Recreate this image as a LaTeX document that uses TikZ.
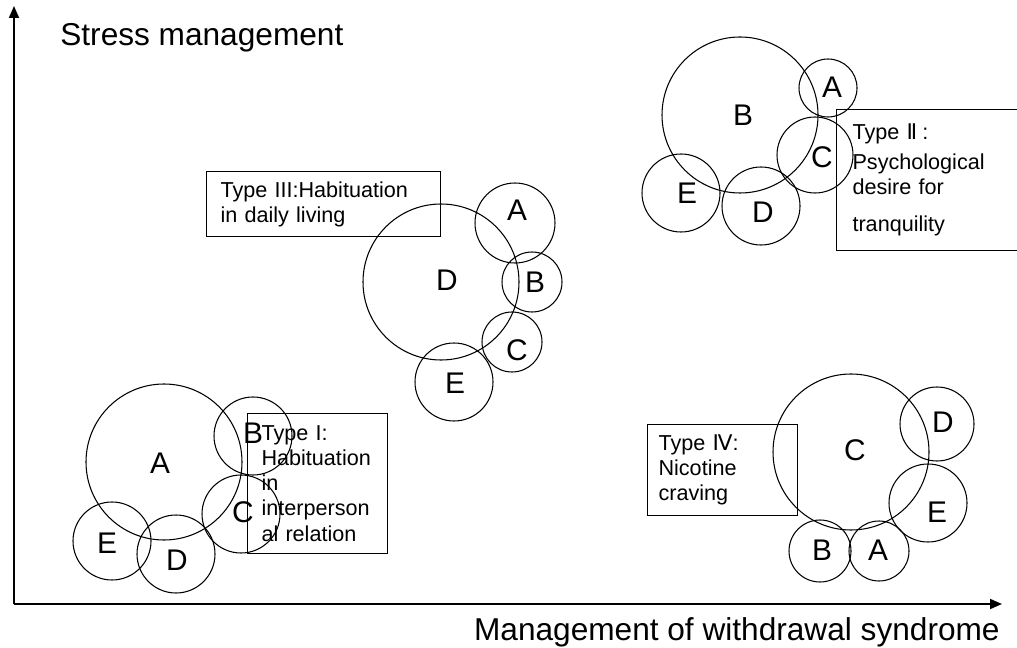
\documentclass[tikz,border=0pt]{standalone}
\usepackage{fontspec}
\setmainfont{Liberation Sans}
\newfontfamily\numfont{DejaVu Sans}
\usetikzlibrary{arrows.meta}

\tikzset{
	bubble/.style={line width=0.6pt},
	letter/.style={inner sep=0pt, font=\fontsize{17}{20}\selectfont},
	typebox/.style={draw, line width=0.6pt, anchor=north west, inner ysep=0pt, align=left, font=\fontsize{12.3}{14.3}\selectfont},
	axis/.style={line width=1pt, -{Triangle[length=0.24cm,width=0.2cm]}},
	axistitle/.style={inner sep=0pt, font=\fontsize{18}{21}\selectfont}
}

\begin{document}
\begin{tikzpicture}[x=0.02cm,y=-0.02cm]
			      \useasboundingbox (0,0) rectangle (1017,648);
			      \clip (0,0) rectangle (1017,648);

			      % axes
			      \coordinate (origin) at (14,604);
			      \coordinate (ytip) at (14,6);
			      \coordinate (xtip) at (1002,604);
			      \draw[axis] (origin) -- (ytip);
			      \draw[axis] (origin) -- (xtip);
			      \node[axistitle, anchor=west] (ytitle) at (60,38) {Stress management};
			      \node[axistitle, anchor=east] (xtitle) at (1000,632) {Management of withdrawal syndrome};

			      % type I
			      \draw[bubble] (164,462) circle (78);
			      \draw[bubble] (253,436) circle (39);
			      \draw[bubble] (241,514) circle (39);
			      \draw[bubble] (176,554) circle (39);
			      \draw[bubble] (112,541) circle (39);
			      \node[letter] (oneA) at (160,463) {A};
			      \node[letter] (oneB) at (253,433) {B};
			      \node[letter] (oneC) at (243,512) {C};
			      \node[letter] (oneD) at (177,560) {D};
			      \node[letter] (oneE) at (107,543) {E};
			      \node[typebox, inner xsep=0.28cm, text width=2.24cm, minimum height=2.8cm] (typeone) at (247,413)
			      {Type I:\\Habituation\\in\\interperson\\al relation};

			      % type II
			      \draw[bubble] (740,115) circle (78);
			      \draw[bubble] (828,88) circle (29);
			      \draw[bubble] (815,155) circle (38);
			      \draw[bubble] (761,206) circle (39);
			      \draw[bubble] (681,193) circle (39);
			      \node[letter] (twoB) at (743,115) {B};
			      \node[letter] (twoA) at (832,87) {A};
			      \node[letter] (twoC) at (822,157) {C};
			      \node[letter] (twoD) at (763,212) {D};
			      \node[letter] (twoE) at (687,193) {E};
			      \node[typebox, inner xsep=0.32cm, text width=3.5cm, minimum height=2.82cm] (typetwo) at (836,109)
			      {Type {\numfont Ⅱ}\hspace{3pt}:\\[0.1cm]Psychological\\desire for\\[0.24cm]tranquility};

			      % type III
			      \draw[bubble] (441,282) circle (78);
			      \draw[bubble] (515,223) circle (40);
			      \draw[bubble] (532,282) circle (30);
			      \draw[bubble] (512,342) circle (30);
			      \draw[bubble] (454,382) circle (39);
			      \node[letter] (threeD) at (447,280) {D};
			      \node[letter] (threeA) at (517,210) {A};
			      \node[letter] (threeB) at (535,282) {B};
			      \node[letter] (threeC) at (517,350) {C};
			      \node[letter] (threeE) at (455,383) {E};
			      \node[typebox, inner xsep=0.28cm, text width=4.12cm, minimum height=1.3cm] (typethree) at (206,171)
			      {Type III:Habituation\\in daily living};

			      % type IV
			      \draw[bubble] (851,452) circle (78);
			      \draw[bubble] (937,424) circle (37);
			      \draw[bubble] (928,503) circle (39);
			      \draw[bubble] (820,551) circle (31);
			      \draw[bubble] (879,551) circle (30);
			      \node[letter] (fourC) at (855,450) {C};
			      \node[letter] (fourD) at (943,422) {D};
			      \node[letter] (fourE) at (937,512) {E};
			      \node[letter] (fourB) at (822,550) {B};
			      \node[letter] (fourA) at (878,550) {A};
			      \node[typebox, inner xsep=0.22cm, text width=2.56cm, minimum height=1.82cm] (typefour) at (647,424)
			      {Type {\numfont Ⅳ}:\\Nicotine\\craving};
		      \end{tikzpicture}
\end{document}
